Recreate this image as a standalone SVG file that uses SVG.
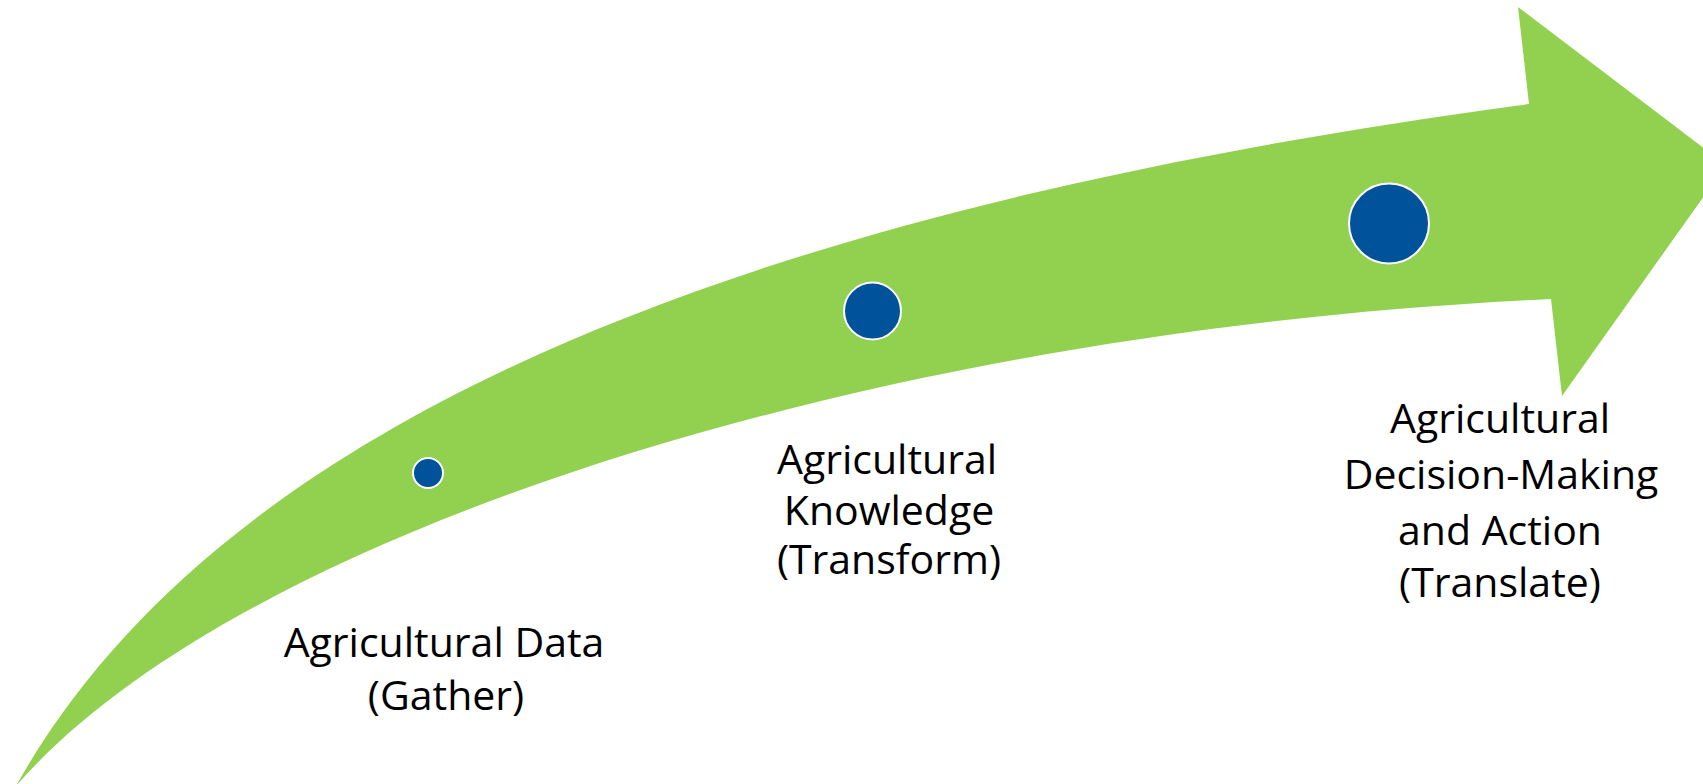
<svg xmlns="http://www.w3.org/2000/svg" width="1703" height="784" viewBox="0 0 1703 784">
  <style>
    .arrow { fill: #92D050; stroke: none; }
    .dot { fill: #00529B; stroke: #FFFFFF; stroke-width: 2; }
    .lbl { font-family: "Open Sans", "Noto Sans", sans-serif; font-size: 41px; fill: #000000; text-anchor: middle; }
  </style>
  <rect width="1703" height="784" fill="#FFFFFF"/>
  <g id="connectors">
    <path id="curved-arrow" class="arrow" d="M16,786 C208,443 690,216 1529,104 L1518,7 L1726,165 L1562,396 L1551,299 C873,330 236,533 16,786 Z"/>
  </g>
  <g id="node-data">
    <circle class="dot" cx="428" cy="473" r="15"/>
    <text class="lbl" x="444" y="657">Agricultural Data</text>
    <text class="lbl" x="446" y="710">(Gather)</text>
  </g>
  <g id="node-knowledge">
    <circle class="dot" cx="872.5" cy="311" r="28.5"/>
    <text class="lbl" x="887" y="474">Agricultural</text>
    <text class="lbl" x="889" y="525">Knowledge</text>
    <text class="lbl" x="889" y="574">(Transform)</text>
  </g>
  <g id="node-decision">
    <circle class="dot" cx="1389" cy="223.5" r="40"/>
    <text class="lbl" x="1500" y="433">Agricultural</text>
    <text class="lbl" x="1501" y="489">Decision-Making</text>
    <text class="lbl" x="1500" y="545">and Action</text>
    <text class="lbl" x="1500" y="597">(Translate)</text>
  </g>
</svg>
